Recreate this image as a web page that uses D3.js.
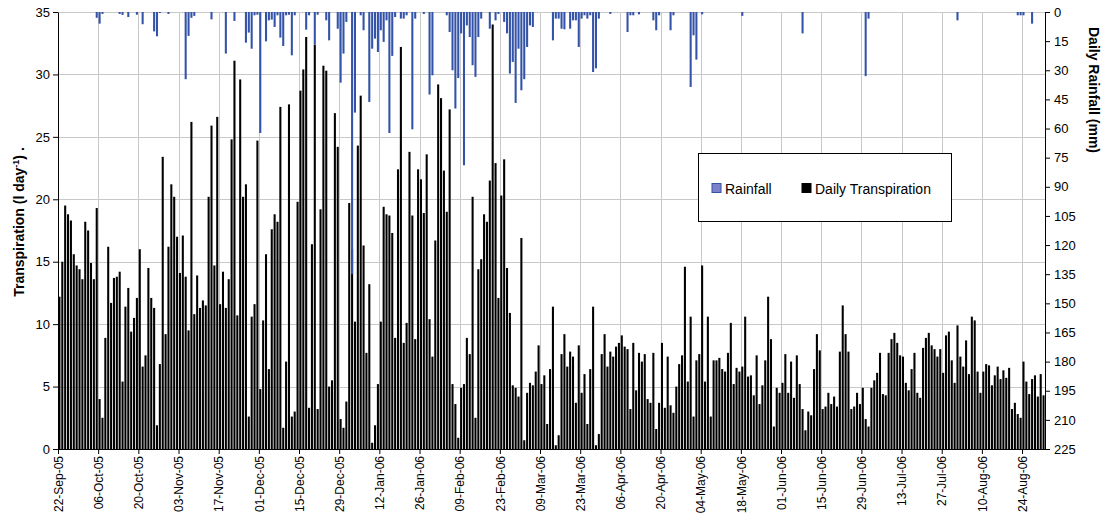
<!DOCTYPE html>
<html>
<head>
<meta charset="utf-8">
<script src="https://cdn.jsdelivr.net/npm/d3@7"></script>
<style>
  body { margin: 0; background: #fff; }
  svg text { font-family: "Liberation Sans", Arial, sans-serif; }
</style>
</head>
<body>
<svg id="chart" width="1105" height="523"></svg>
<script>
// daily values, first day 22-Sep-05
const startDate = new Date(2005, 8, 22);
const transpiration = [
  12.2,15.0,19.5,18.8,18.3,15.6,14.7,14.4,13.6,18.2,17.5,14.9,13.6,19.3,4.0,2.5,8.9,16.2,11.7,13.7,13.8,14.2,5.4,11.4,12.9,9.4,10.5,12.1,16.0,6.6,7.5,14.5,12.1,11.3,1.9,6.8,23.4,9.2,16.2,21.2,20.2,17.0,
  14.1,17.1,13.8,9.5,26.2,10.8,13.9,11.3,11.9,11.5,20.2,25.9,14.7,26.6,11.6,14.2,11.3,13.6,24.8,31.1,10.7,29.6,20.2,21.2,2.6,10.6,11.6,24.7,4.8,10.3,15.6,6.4,17.6,18.8,18.2,27.4,1.7,7.0,27.6,2.6,3.0,19.8,
  28.7,30.4,33.0,3.3,16.4,32.4,3.2,19.2,30.7,30.3,5.0,5.5,26.9,24.2,2.4,1.7,3.8,19.7,16.0,10.2,24.3,28.3,16.3,7.7,13.2,0.5,1.9,5.2,10.2,19.4,18.8,18.7,17.3,8.9,22.4,32.2,8.5,10.1,23.8,18.7,8.8,22.4,21.6,18.9,23.6,
  10.4,7.4,16.7,29.2,28.1,22.3,19.0,27.2,5.2,3.6,0.9,4.9,5.2,8.9,7.6,20.2,2.5,14.4,15.2,18.8,18.2,21.5,34.0,22.9,12.1,20.3,23.2,14.5,10.9,5.1,4.9,4.2,16.9,0.7,4.5,5.3,5.1,6.2,8.3,5.2,5.9,2.0,6.4,11.4,
  0.3,1.1,7.6,9.2,6.6,7.8,7.4,3.7,8.3,4.5,6.0,2.0,6.4,11.4,0.3,1.2,7.6,9.2,6.6,7.8,7.4,8.2,8.5,9.1,8.2,8.0,3.2,8.5,4.7,7.7,7.0,7.6,4.0,3.7,7.7,1.6,3.7,8.5,3.3,7.4,3.5,2.9,5.0,
  6.8,7.5,14.6,5.4,10.6,2.6,7.1,7.6,14.7,5.4,10.6,2.6,7.1,7.1,7.3,6.4,6.2,7.7,10.1,5.2,6.5,6.2,6.6,10.6,5.8,5.9,4.3,7.5,3.6,5.1,7.1,12.2,8.8,1.8,4.9,4.5,5.3,7.6,4.5,7.0,4.1,7.5,5.2,3.2,
  1.5,3.0,2.7,6.4,9.2,7.9,3.2,3.4,4.5,3.6,4.2,3.4,7.8,11.5,9.2,7.8,3.2,3.4,4.5,3.6,4.9,2.4,1.8,4.9,5.5,6.1,7.7,4.4,4.3,7.7,8.8,9.3,8.5,7.5,7.4,5.3,4.7,6.4,7.7,4.5,4.1,8.1,
  8.9,9.3,8.3,8.0,7.4,8.0,6.1,9.1,9.4,7.1,5.3,9.9,7.4,6.6,8.7,6.0,10.6,10.3,6.2,4.5,6.2,6.8,6.7,5.1,5.9,6.6,5.6,6.3,5.7,6.5,3.2,3.7,2.8,2.5,7.0,5.4,4.4,5.6,5.9,4.2,6.0,4.3
];
// rainfall: day number (0 = 22-Sep-05) and mm
const rainDay = [13,14,15,21,22,24,27,29,33,34,35,38,
  44,45,46,47,53,58,61,65,66,67,68,69,70,72,73,74,75,76,77,78,79,80,81,82,
  86,87,89,90,93,94,97,98,99,100,102,103,105,106,108,109,110,111,112,113,114,115,116,117,119,120,121,123,124,127,
  129,130,135,136,137,138,139,140,141,142,143,144,145,146,147,150,152,153,155,156,157,158,159,160,161,162,163,164,165,172,
  173,174,175,176,178,179,180,181,182,183,184,185,186,187,188,192,198,199,200,202,207,208,209,213,
  214,220,221,222,224,238,259,281,282,313,334,335,336,339];
const rainMm = [3,6,1,1,1.5,2.6,1.4,6.3,10,12.5,0.5,1,
  34.6,12.3,3,2,3.8,21.4,4.6,15.8,10.6,18.9,1.7,1.4,62.3,15.1,4.3,3.9,7.7,1.7,13.2,17.5,1.7,1.4,22.3,1.7,
  9.1,1.7,16.6,1.4,4.3,14.6,8.6,36.4,21.4,5.1,135,51.8,1.7,9.4,46.3,18.9,13.7,20.6,9.4,15.4,4.3,62.3,22.6,2.6,3.4,3.4,1.7,60.4,3.4,1,
  42.5,32.6,1.7,10.3,30,49.7,34,11,78.9,6.9,12.9,27.4,33.4,12.9,3.4,8.6,4.3,1,5.1,11,31.7,25.7,46.8,18.9,40.3,34.6,18,6.9,7.7,14.6,
  3.4,3.4,8.6,8.9,8.6,4.3,4.3,18,3.4,1.7,3.4,1.7,30.9,29,3.4,1,10.3,1.7,1.7,1.2,4.3,9.4,1.7,9.4,
  1.7,38.6,12,24.5,1.2,2,11,33,3.4,4.3,1.7,1.7,1.7,6];
const leftTicks = [0, 5, 10, 15, 20, 25, 30, 35];
const rightTicks = [0, 15, 30, 45, 60, 75, 90, 105, 120, 135, 150, 165, 180, 195, 210, 225];
const seriesNames = ["Rainfall", "Daily Transpiration"];

const svg = d3.select("#chart");
const plotLeft = 58, plotRight = 1045, plotTop = 12, plotBottom = 449;
const n = transpiration.length;
const dates = d3.timeDay.range(startDate, d3.timeDay.offset(startDate, n));
const fmt = d3.timeFormat("%d-%b-%y");

const pad = 0.28;
const x = d3.scaleBand().domain(d3.range(n)).range([plotLeft, plotRight])
  .paddingInner(pad).paddingOuter(pad / 2);
const xt = d3.scaleLinear().domain([0, n]).range([plotLeft, plotRight]);
const yL = d3.scaleLinear().domain([0, 35]).range([plotBottom, plotTop]);
const yR = d3.scaleLinear().domain([0, 225]).range([plotTop, plotBottom]);
const dayTicks = d3.range(0, n, 14);

// grid
const grid = svg.append("g").attr("stroke", "#c8c8c8").attr("stroke-width", 1);
grid.selectAll("line.h").data(leftTicks.slice(1)).join("line")
  .attr("x1", plotLeft).attr("x2", plotRight)
  .attr("y1", d => Math.round(yL(d)) + 0.5).attr("y2", d => Math.round(yL(d)) + 0.5);
grid.selectAll("line.v").data(dayTicks.slice(1)).join("line")
  .attr("y1", plotTop).attr("y2", plotBottom)
  .attr("x1", d => Math.round(xt(d)) + 0.5).attr("x2", d => Math.round(xt(d)) + 0.5);

// transpiration bars
svg.append("g").selectAll("rect").data(transpiration).join("rect")
  .attr("x", (d, i) => x(i))
  .attr("y", d => yL(d))
  .attr("width", x.bandwidth())
  .attr("height", d => plotBottom - yL(d))
  .attr("fill", "#000");

// rainfall bars hanging from the top
svg.append("g").selectAll("rect").data(rainDay).join("rect")
  .attr("x", d => x(d))
  .attr("y", plotTop)
  .attr("width", x.bandwidth())
  .attr("height", (d, i) => yR(rainMm[i]) - plotTop)
  .attr("fill", "#3353a8");

// axes
const axL = svg.append("g").attr("transform", `translate(${plotLeft},0)`)
  .call(d3.axisLeft(yL).tickValues(leftTicks).tickSize(5).tickSizeOuter(0).tickPadding(3));
const axR = svg.append("g").attr("transform", `translate(${plotRight},0)`)
  .call(d3.axisRight(yR).tickValues(rightTicks).tickSize(5).tickSizeOuter(0).tickPadding(4));
const axB = svg.append("g").attr("transform", `translate(0,${plotBottom})`)
  .call(d3.axisBottom(xt).tickValues(dayTicks).tickFormat(i => fmt(dates[i])).tickSize(5).tickSizeOuter(0));
axB.selectAll("text")
  .attr("transform", "rotate(-90)")
  .attr("text-anchor", "end")
  .attr("x", -7).attr("y", 0).attr("dy", "0.35em");

[axL, axR, axB].forEach(a => {
  a.selectAll("text").attr("font-size", a === axB ? 12 : 13).attr("fill", "#000")
    .attr("font-family", "Liberation Sans, Arial, sans-serif");
  a.selectAll("line, path").attr("stroke", "#000");
});

// axis titles
const tl = svg.append("text")
  .attr("transform", "translate(24,222) rotate(-90)")
  .attr("text-anchor", "middle")
  .attr("font-size", 14).attr("font-weight", "bold");
tl.append("tspan").text("Transpiration (l day");
tl.append("tspan").attr("dy", -5).attr("font-size", 9).text("-1");
tl.append("tspan").attr("dy", 5).text(")  .");

svg.append("text")
  .attr("transform", "translate(1089,90) rotate(90)")
  .attr("text-anchor", "middle")
  .attr("font-size", 14).attr("font-weight", "bold")
  .text("Daily Rainfall (mm)");

// legend
const lg = svg.append("g").attr("transform", "translate(698,153)");
lg.append("rect").attr("x", 0.5).attr("y", 0.5).attr("width", 253).attr("height", 68)
  .attr("fill", "#fff").attr("stroke", "#000");
const legX = [14, 104];
const legFill = ["#7c80c9", "#000"];
const legStroke = ["#3353a8", "#000"];
seriesNames.forEach((name, i) => {
  lg.append("rect").attr("x", legX[i]).attr("y", 30.5).attr("width", 9).attr("height", 9)
    .attr("fill", legFill[i]).attr("stroke", legStroke[i]);
  lg.append("text").attr("x", legX[i] + 13).attr("y", 40.5)
    .attr("font-size", 14).text(name);
});
</script>
</body>
</html>
